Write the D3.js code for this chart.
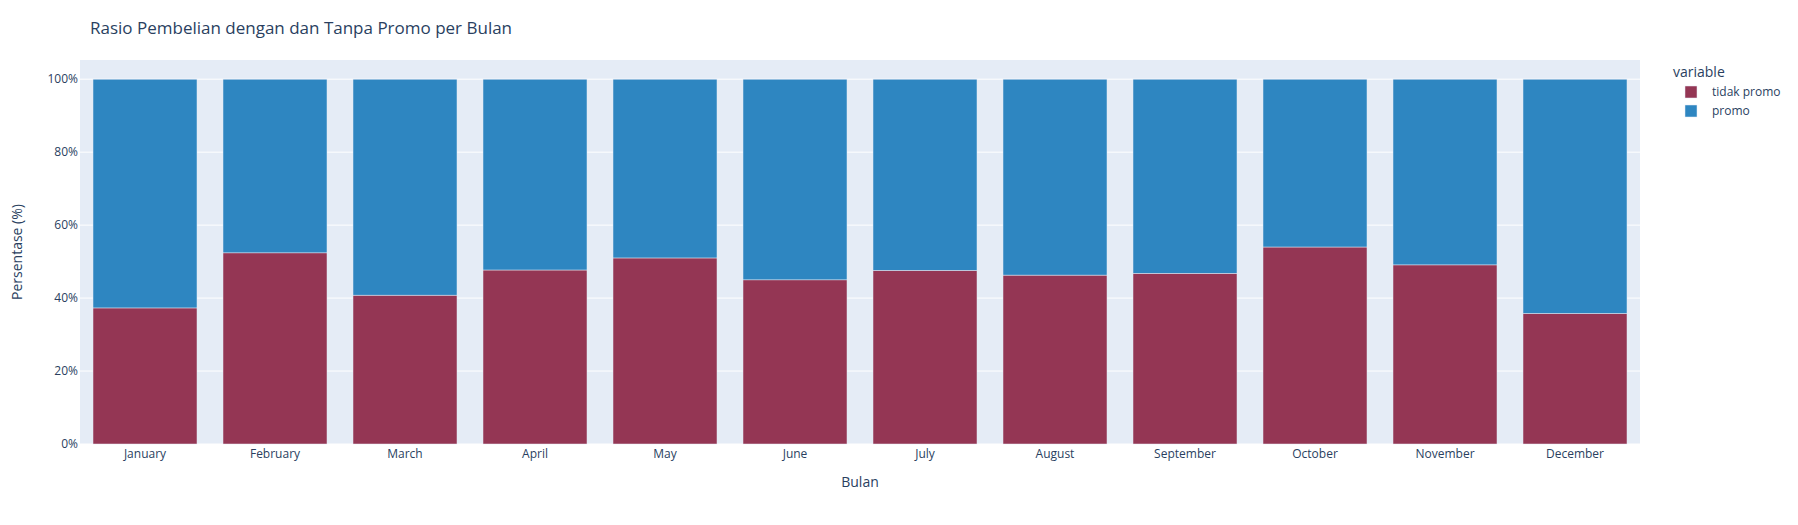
<!DOCTYPE html>
<html>
<head>
    <meta charset="utf-8">
    <title>Rasio Pembelian</title>
    <script src="https://d3js.org/d3.v7.min.js"></script>
    <style>
        body { margin: 0; background: white; }
        text { font-family: "Open Sans", sans-serif; fill: #2a3f5f; }
    </style>
</head>
<body>
<script>
    // data (percent)
    let months = ["January", "February", "March", "April", "May", "June",
                  "July", "August", "September", "October", "November", "December"];
    let tidakPromo = [37.3, 52.4, 40.8, 47.7, 51.0, 45.0, 47.6, 46.3, 46.8, 54.0, 49.1, 35.8];
    let promo = tidakPromo.map(v => 100 - v);
    let seriesNames = ["tidak promo", "promo"];
    let seriesColors = ["#943654", "#2e86c1"];
    let yTicks = [0, 20, 40, 60, 80, 100];

    let width = 1798, height = 525;
    let plot = {left: 80, top: 60, right: 1640, bottom: 444};

    let svg = d3.select("body")
        .append("svg")
            .attr("width", width)
            .attr("height", height);

    let x = d3.scaleBand()
        .domain(months)
        .range([plot.left, plot.right])
        .paddingInner(0.2)
        .paddingOuter(0.1);

    let y = d3.scaleLinear()
        .domain([0, 100 / 0.95])
        .range([plot.bottom, plot.top]);

    // background
    svg.append("rect")
        .attr("x", plot.left)
        .attr("y", plot.top)
        .attr("width", plot.right - plot.left)
        .attr("height", plot.bottom - plot.top)
        .attr("fill", "#e5ecf6");

    // grid
    svg.append("g")
        .selectAll("line")
        .data(yTicks)
        .join("line")
            .attr("x1", plot.left)
            .attr("x2", plot.right)
            .attr("y1", d => y(d))
            .attr("y2", d => y(d))
            .attr("stroke", "white")
            .attr("stroke-width", 1);

    // stacked bars
    let table = months.map((m, i) => ({month: m, "tidak promo": tidakPromo[i], "promo": promo[i]}));
    let stacked = d3.stack().keys(seriesNames)(table);

    svg.append("g")
        .selectAll("g")
        .data(stacked)
        .join("g")
            .attr("fill", (d, i) => seriesColors[i])
        .selectAll("rect")
        .data(d => d)
        .join("rect")
            .attr("x", d => x(d.data.month))
            .attr("width", x.bandwidth())
            .attr("y", d => y(d[1]))
            .attr("height", d => y(d[0]) - y(d[1]))
            .attr("stroke", "#e5ecf6")
            .attr("stroke-width", 0.5);

    // y ticks
    svg.append("g")
        .selectAll("text")
        .data(yTicks)
        .join("text")
            .attr("x", plot.left - 2)
            .attr("y", d => y(d))
            .attr("dy", "0.35em")
            .attr("text-anchor", "end")
            .style("font-size", "12px")
            .text(d => d + "%");

    // x ticks
    svg.append("g")
        .selectAll("text")
        .data(months)
        .join("text")
            .attr("x", d => x(d) + x.bandwidth() / 2)
            .attr("y", plot.bottom + 14)
            .attr("text-anchor", "middle")
            .style("font-size", "12px")
            .text(d => d);

    // axis titles
    svg.append("text")
        .attr("x", (plot.left + plot.right) / 2)
        .attr("y", 487)
        .attr("text-anchor", "middle")
        .style("font-size", "14px")
        .text("Bulan");

    svg.append("text")
        .attr("transform", `translate(22, ${(plot.top + plot.bottom) / 2}) rotate(-90)`)
        .attr("text-anchor", "middle")
        .style("font-size", "14px")
        .text("Persentase (%)");

    // title
    svg.append("text")
        .attr("x", 90)
        .attr("y", 34)
        .style("font-size", "17px")
        .text("Rasio Pembelian dengan dan Tanpa Promo per Bulan");

    // legend
    let legend = svg.append("g").attr("transform", "translate(1673, 0)");
    legend.append("text")
        .attr("x", 0)
        .attr("y", 77)
        .style("font-size", "14px")
        .text("variable");

    let items = legend.selectAll("g.item")
        .data(seriesNames)
        .join("g")
            .attr("class", "item")
            .attr("transform", (d, i) => `translate(0, ${92 + i * 19})`);

    items.append("rect")
        .attr("x", 12)
        .attr("y", -6)
        .attr("width", 12)
        .attr("height", 12)
        .attr("fill", (d, i) => seriesColors[i])
        .attr("stroke", "#e5ecf6")
        .attr("stroke-width", 0.5);

    items.append("text")
        .attr("x", 39)
        .attr("y", 0)
        .attr("dy", "0.35em")
        .style("font-size", "12px")
        .text(d => d);
</script>
</body>
</html>
